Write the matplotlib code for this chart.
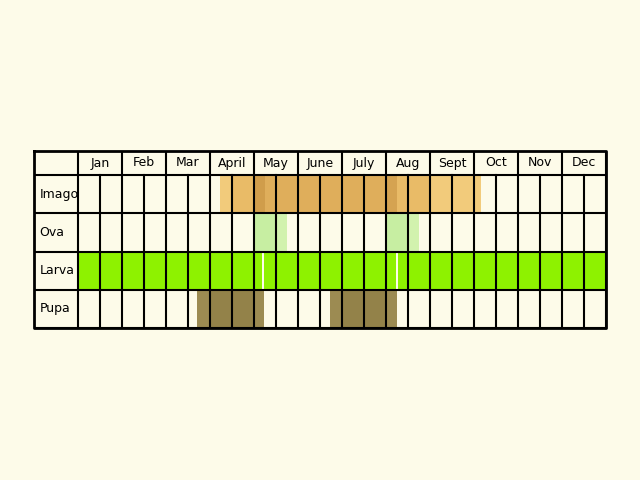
import matplotlib.pyplot as plt

months = ["Jan", "Feb", "Mar", "April", "May", "June", "July", "Aug", "Sept", "Oct", "Nov", "Dec"]
stages = ["Imago", "Ova", "Larva", "Pupa"]

# (stage, start month, end month, colour, alpha)
spans = [
    ("Imago", 3.23, 9.16, "#f0c060", 0.8),
    ("Imago", 3.52, 8.02, "#e0a850", 0.45),
    ("Imago", 4.0, 7.0, "#c89040", 0.3),
    ("Imago", 4.0, 4.25, "#b07828", 0.3),
    ("Imago", 7.0, 7.25, "#b07828", 0.35),
    ("Ova", 4.0, 4.75, "#c8f0a0", 0.8),
    ("Ova", 4.0, 4.5, "#b8e890", 0.4),
    ("Ova", 7.0, 7.75, "#c8f0a0", 0.8),
    ("Ova", 7.0, 7.5, "#b8e890", 0.4),
    ("Larva", 0.0, 4.18, "#8ef200", 1.0),
    ("Larva", 4.23, 7.23, "#8ef200", 1.0),
    ("Larva", 7.28, 12.0, "#8ef200", 1.0),
    ("Pupa", 2.7, 4.23, "#8b7838", 0.85),
    ("Pupa", 3.0, 4.0, "#7a6830", 0.25),
    ("Pupa", 5.73, 7.25, "#8b7838", 0.85),
    ("Pupa", 6.0, 7.0, "#7a6830", 0.25),
]

bg = "#fdfbe9"
fig = plt.figure(figsize=(6.4, 4.8), dpi=100, facecolor=bg)
ax = fig.add_axes([34 / 640, 1 - 328 / 480, 572 / 640, 177 / 480])
ax.set_facecolor(bg)

head = 24
rowh = (177 - head) / 4
ax.set_xlim(-1, 12)
ax.set_ylim(177, 0)
ax.axis("off")

for st, a, b, c, al in spans:
    i = stages.index(st)
    ax.fill_between([a, b], head + i * rowh, head + (i + 1) * rowh, color=c, alpha=al, lw=0, zorder=1)

# grid
for m in range(13):
    ax.plot([m, m], [0, 177], color="black", lw=1.5, zorder=3)
    if m < 12:
        ax.plot([m + 0.5, m + 0.5], [head, 177], color="black", lw=1.5, zorder=3)
        ax.text(m + 0.5, head / 2, months[m], ha="center", va="center", fontsize=9, zorder=4)
for i in range(5):
    ax.plot([-1, 12], [head + i * rowh] * 2, color="black", lw=1.5, zorder=3)
for i, st in enumerate(stages):
    ax.text(-0.88, head + (i + 0.5) * rowh, st, ha="left", va="center", fontsize=9, zorder=4)
ax.plot([-1, 12, 12, -1, -1], [0, 0, 177, 177, 0], color="black", lw=2, zorder=3, clip_on=False)

fig.savefig("out.png", dpi=100, facecolor=bg)
